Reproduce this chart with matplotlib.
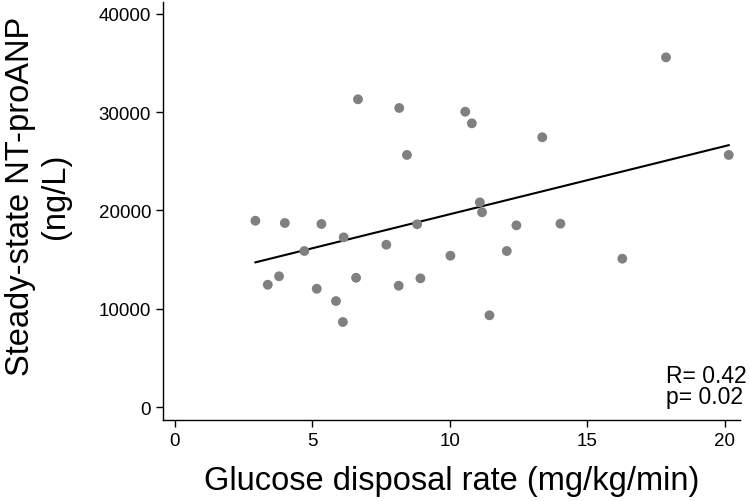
import numpy as np
import matplotlib
matplotlib.use("Agg")
import matplotlib.pyplot as plt

# glucose disposal rate (mg/kg/min) vs steady-state NT-proANP (ng/L)
gdr = [2.94, 4.01, 5.34, 6.15, 4.72, 7.70, 8.82, 10.03, 3.39, 3.80,
       5.17, 5.87, 6.12, 6.60, 8.15, 8.94, 6.67, 8.17, 8.45, 17.87,
       10.57, 10.81, 13.37, 20.15, 11.10, 11.18, 12.43, 14.03, 12.08, 16.28,
       11.45]
ntproanp = [18950, 18720, 18620, 17260, 15870, 16510, 18590, 15390, 12440, 13300,
            12030, 10780, 8650, 13150, 12340, 13090, 31300, 30420, 25640, 35570,
            30040, 28860, 27440, 25640, 20820, 19810, 18480, 18650, 15870, 15090,
            9330]
x_ticks = [0, 5, 10, 15, 20]
y_ticks = [0, 10000, 20000, 30000, 40000]
r_text = "R= 0.42\np= 0.02"

plt.rcParams['font.family'] = ['Liberation Sans', 'DejaVu Sans']

fig = plt.figure(figsize=(7.5, 5.02), dpi=100)
ax = fig.add_axes([163 / 750, 1 - 421 / 502, 577 / 750, 418 / 502])

ax.scatter(gdr, ntproanp, s=50, color='#808080', edgecolors='none', zorder=3)

# least squares fit over the data range
slope, intercept = np.polyfit(gdr, ntproanp, 1)
xs = np.array([min(gdr), max(gdr)])
ax.plot(xs, slope * xs + intercept, color='black', linewidth=1.5, zorder=2)

ax.set_xlim(-0.42, 20.56)
ax.set_ylim(-1320, 41200)
ax.set_xticks(x_ticks)
ax.set_yticks(y_ticks)
ax.tick_params(direction='out', length=5, width=1, labelsize=13.5, pad=3.5)

for side in ['top', 'right']:
    ax.spines[side].set_visible(False)
for side in ['left', 'bottom']:
    ax.spines[side].set_linewidth(1)

ax.set_xlabel("Glucose disposal rate (mg/kg/min)", fontsize=23.5, labelpad=12)
fig.text(0.051, 1 - 196 / 502, "Steady-state NT-proANP\n(ng/L)", rotation=90,
         ha='center', va='center', fontsize=23.5, linespacing=1.15)

fig.text(747 / 750, 1 - 387 / 502, r_text, ha='right', va='center',
         multialignment='left', fontsize=16.5, linespacing=0.88)

fig.savefig("out.png", dpi=100)
